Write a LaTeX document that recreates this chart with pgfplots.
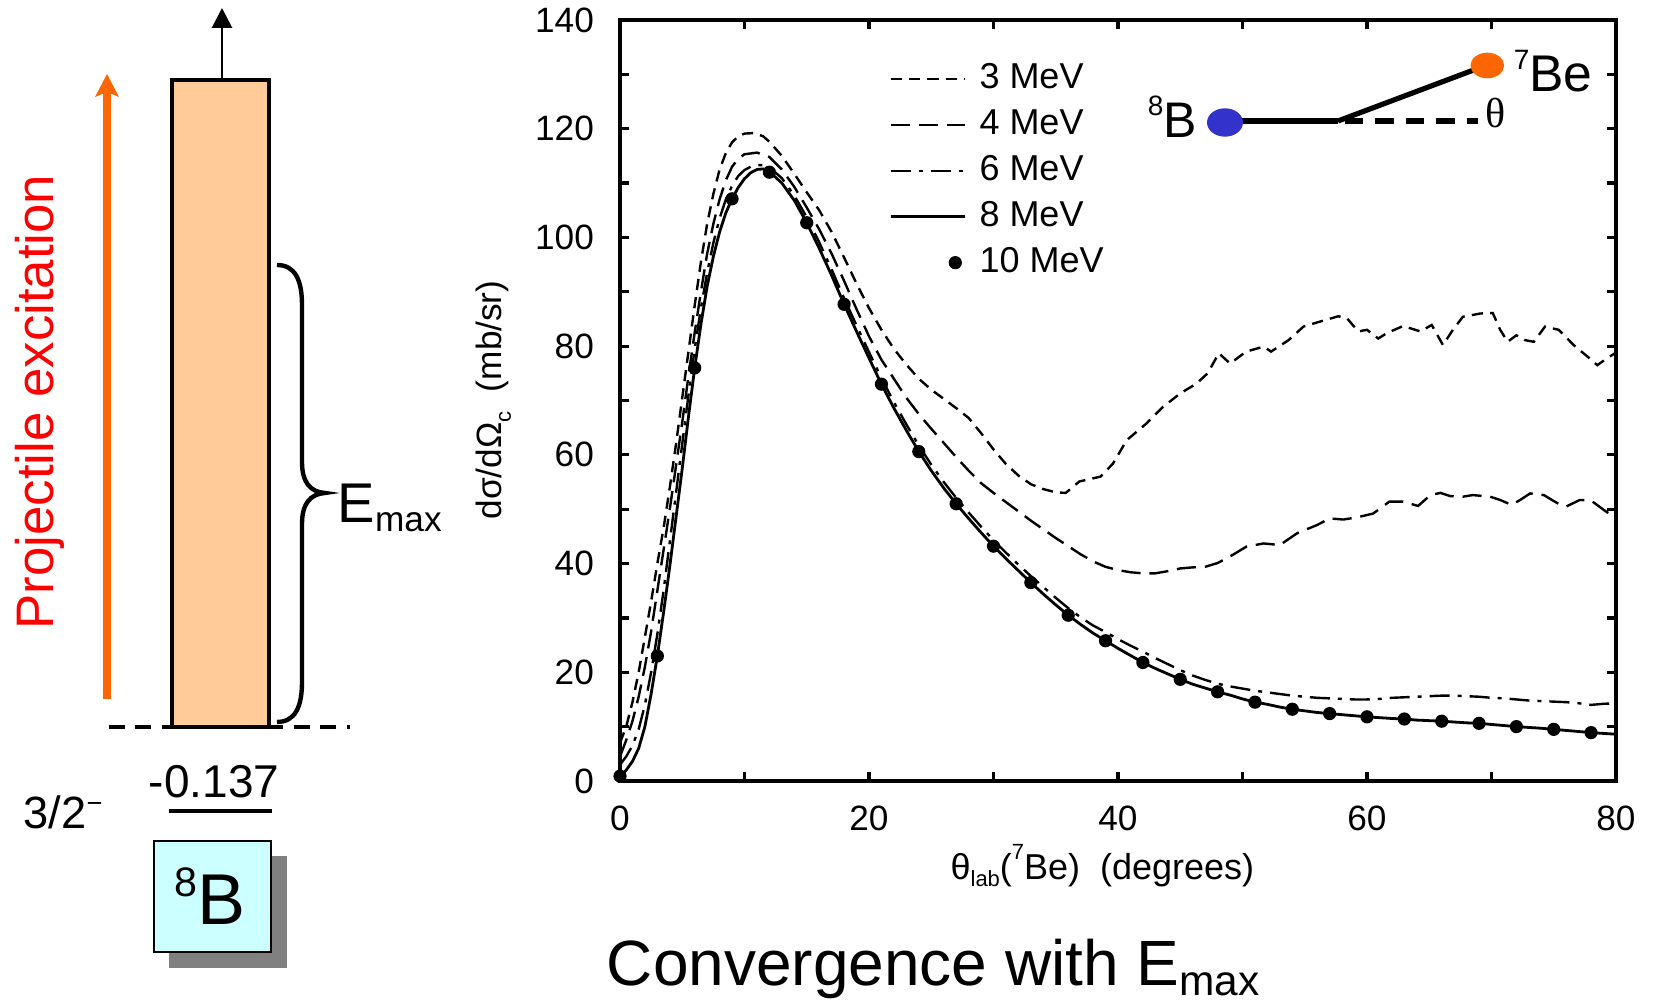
\documentclass[border=0pt]{standalone}
\usepackage{fontspec}
\setmainfont{Liberation Sans}
\newfontfamily\serifgr{Liberation Serif}
\usepackage{pgfplots}
\pgfplotsset{compat=1.18}
\usetikzlibrary{arrows.meta}
\definecolor{orangeA}{HTML}{FF6600}
\definecolor{peach}{HTML}{FFCC99}
\definecolor{cyanbox}{HTML}{CCFFFF}
\definecolor{shadowgray}{HTML}{808080}
\definecolor{blueB}{HTML}{3333CC}
\pgfplotsset{
  linelegend/.style={legend image code/.code={\draw[##1] (0pt,0pt) -- (18.5pt,0pt);}},
  dotlegend/.style={legend image code/.code={\path[draw=none,fill=none] (0pt,0pt) -- (18.5pt,0pt); \draw[##1] plot coordinates {(16.2pt,0pt)};}},
}
\begin{document}
\begin{tikzpicture}
\path[use as bounding box] (0,0) rectangle (413.25pt,251.25pt);
\begin{axis}[
  at={(155pt,56pt)}, anchor=south west,
  width=249pt, height=190.25pt, scale only axis,
  xmin=0, xmax=80, ymin=0, ymax=140,
  xtick={0,20,40,60,80}, minor xtick={10,30,50,70},
  ytick={0,20,...,140}, minor ytick={10,30,...,130},
  major tick length=2.3pt, minor tick length=2.3pt,
  tick style={line width=0.8pt, black},
  axis line style={line width=0.8pt},
  tick label style={font=\fontsize{8.8}{10}\selectfont},
  /pgf/number format/assume math mode=true,
  xticklabel style={yshift=-2.6pt},
  yticklabel style={xshift=-3pt},
  clip=false,
  xlabel={θ\raisebox{-1.7pt}{\fontsize{5.5}{6}\selectfont lab}(\raisebox{5pt}{\fontsize{5.5}{6}\selectfont 7}Be)\hspace{0.55em}(degrees)},
  ylabel={dσ/dΩ\raisebox{-2.3pt}{\fontsize{5.5}{6}\selectfont c}\hspace{0.55em}(mb/sr)},
  every axis x label/.style={at={(axis description cs:0.4843,-0.1297)}, anchor=base, font=\fontsize{9}{11}\selectfont},
  every axis y label/.style={at={(axis description cs:-0.1188,0.5007)}, anchor=base, rotate=90, font=\fontsize{8.8}{11}\selectfont},
  legend style={at={(axis description cs:0.2694,0.9541)}, anchor=north west, draw=none, fill=none,
    inner xsep=0pt, inner ysep=0pt, row sep=-0.3pt, font=\fontsize{9}{11}\selectfont,
    /tikz/every odd column/.append style={column sep=1.4pt}},
  legend cell align=left,
]
\addplot[black, line width=0.6pt, dash pattern=on 2.8pt off 1.8pt, linelegend] table {
x y
0 7
0.5 10
1 14.5
1.5 20
2 26.5
2.5 33
3 40
3.5 46.5
4 54
4.5 62
5 70.5
5.5 79
6 87.5
6.5 95.5
7 102.5
7.5 108
8 112.5
8.5 115.5
9 117.5
9.5 118.6
10 119.1
10.8 119.2
11.5 118.6
12 117.6
13 115
14 111.7
15 108.3
16 105
17 101
18 96.3
19 91.5
20 87
21 83
22 79.5
23 76.6
24 74
25 72
26 70.3
27 68.6
28 66.8
29 64
30 61
31 58.3
32 56.2
33 54.6
34 53.7
35 53.1
35.8 53
36.9 55.1
38.6 56
39.6 58.4
40.7 62.7
42.3 65.8
43.6 68.8
45 71.3
46.3 73.1
47.2 75
48.1 78.7
49 76.8
50.3 79
51.7 79.9
52.3 79
53.7 81.1
54.9 83.6
56.2 84.5
57.7 85.5
58.4 85.1
59.3 82.7
60 83
60.9 81.4
61.6 82.4
62.9 83.7
64.3 82.7
65.2 83.9
66.1 80.2
66.9 83
67.7 85.4
69.1 86
70.1 86.1
70.7 83
71.3 80.8
72 82
72.7 81.1
73.4 80.8
74.3 83.6
75.4 83
76.6 80.2
77.7 78.1
78.5 76.5
79.3 77.8
80 78.8
};
\addlegendentry{3 MeV}
\addplot[black, line width=0.6pt, dash pattern=on 4.8pt off 2.2pt, linelegend] table {
x y
0 4.5
0.5 7.5
1 11
1.5 15.5
2 21
2.5 27.5
3 35
3.5 42.5
4 50
4.5 58
5 66
5.5 74.5
6 82.5
6.5 90
7 97
7.5 102.5
8 107
8.5 110.5
9 113
9.5 114.5
10 115.3
11 115.6
12 114.8
13 112.5
14 109.3
15 105.5
16 101.5
17 97
18 92
19 86.8
20 81.8
21 77.5
22 74
23 70.5
24 67.5
25 64.8
26 62.2
27 59.6
28 57.1
29 54.8
30 53
31 51.3
32 49.6
33 47.9
34 46.3
35 44.7
36 43.2
37 41.7
38 40.4
39 39.4
40 38.8
41 38.4
42 38.2
43 38.2
44 38.6
45 39.1
46 39.3
47 39.4
48 40.1
49 41.3
50.3 43.1
51.7 43.7
53 43.4
54.4 45.6
56 47.1
57 48.3
58.1 48.1
59.2 48.5
60.5 49.2
61.8 51.4
62.9 51.4
64.1 50.6
65.1 52.6
65.9 53
66.7 52.4
67.7 52.3
68.5 52.6
69.9 52.3
70.7 51.7
71.6 50.8
72.3 51.7
73.1 52.9
74.2 52.6
75.3 51.1
76 50.5
77.1 51.7
78 51.6
79 49.9
80 48.3
};
\addlegendentry{4 MeV}
\addplot[black, line width=0.6pt, dash pattern=on 5pt off 2pt on 1pt off 2pt, linelegend] table {
x y
0 3
0.5 4.5
1 6.5
1.5 9.5
2 14
2.5 20
3 27
3.5 35
4 44
4.5 53
5 62
5.5 71
6 79.5
6.5 87
7 93.5
7.5 99
8 103.5
8.5 107
9 109.5
9.5 111.3
10 112.4
10.5 113
11 113.3
11.5 113.3
12 112.9
13 110.9
14 107.7
15 103.7
16 99.1
17 94.1
18 88.8
19 83.8
20 78.9
21 74.1
22 69.7
23 65.6
24 61.7
25 58.2
26 55
27 52.1
28 49.4
29 46.8
30 44.3
31 42
32 39.8
33 37.7
34 35.7
35 33.7
36 31.8
37 30.1
38 28.6
39 27.4
40 26.1
41 24.9
42 23.8
43 22.6
44 21.5
45 20.4
46 19.4
47 18.6
48 17.9
49 17.4
50 17
51 16.6
52 16.3
53 16
54 15.7
55 15.5
56 15.3
57 15.2
58 15.1
59 15
60 15
61 15.1
62 15.3
63 15.4
64 15.5
65 15.6
66 15.7
67 15.7
68 15.6
69 15.5
70 15.3
71 15.2
72 15
73 14.8
74 14.7
75 14.6
76 14.5
77 14.3
78 14
79 14.2
80 14.3
};
\addlegendentry{6 MeV}
\addplot[black, line width=0.7pt, linelegend] table {
x y
0 0.9
0.5 2
1 3.6
1.5 6
2 10
2.5 16
3 23
3.5 31
4 39.5
4.5 48.5
5 57.5
5.5 67
6 76
6.5 84
7 91
7.5 96.5
8 101
8.5 104.5
9 107.1
9.5 109.2
10 110.8
10.5 111.9
11 112.5
11.5 112.6
12 112.1
13 110
14 106.8
15 102.7
16 98
17 93
18 87.7
19 82.7
20 77.8
21 73
22 68.6
23 64.5
24 60.6
25 57.1
26 53.9
27 51
28 48.3
29 45.7
30 43.2
31 40.9
32 38.7
33 36.5
34 34.4
35 32.4
36 30.5
37 28.8
38 27.2
39 25.8
40 24.4
41 23.1
42 21.8
43 20.7
44 19.7
45 18.7
46 17.8
47 17.1
48 16.4
49 15.8
50 15.1
51 14.5
52 14.1
53 13.6
54 13.2
55 12.9
56 12.6
57 12.4
58 12.2
59 12
60 11.8
62 11.5
63 11.4
64 11.2
66 11
68 10.7
69 10.6
70 10.4
72 10
74 9.7
75 9.5
76 9.3
78 8.9
80 8.6
};
\addlegendentry{8 MeV}
\addplot[only marks, mark=*, mark size=1.45pt, black, dotlegend] table {
x y
0 0.9
3 23
6 76
9 107.1
12 112
15 102.7
18 87.7
21 73
24 60.6
27 51
30 43.2
33 36.5
36 30.5
39 25.8
42 21.8
45 18.7
48 16.4
51 14.5
54 13.2
57 12.4
60 11.8
63 11.4
66 11
69 10.6
72 10
75 9.5
78 8.9
};
\addlegendentry{10 MeV}
\end{axis}
\begin{scope}[shift={(0pt,251.25pt)}, x=0.25pt, y=-0.25pt]
% orange arrow and red label
\draw[line width=2.1pt, orangeA] (107,699) -- (107,92);
\fill[orangeA] (95,97) -- (107,74) -- (119,97) -- (107,92) -- cycle;
\node[rotate=90, anchor=base, inner sep=0, text=red, font=\fontsize{13.2}{15}\selectfont] at (54,402) {Projectile excitation};
% dashed threshold line
\draw[line width=0.85pt, dash pattern=on 4pt off 2.6pt] (109,727) -- (350,727);
% level bar
\draw[fill=peach, line width=0.8pt] (172,80) rectangle (269,727);
\draw[line width=0.7pt, -{Triangle[width=5pt,length=5pt]}] (222,80) -- (222,8);
% brace
\draw[line width=1.1pt] (277,265) .. controls (295,265) and (302,280) .. (302,305) -- (302,462)
  .. controls (302,482) and (310,492) .. (325,493) .. controls (310,494) and (302,504) .. (302,524)
  -- (302,682) .. controls (302,707) and (295,722) .. (277,722);
\node[anchor=base west, inner sep=0] at (337,523) {\fontsize{14}{16}\selectfont E\raisebox{-2.25pt}{\fontsize{8.8}{10}\selectfont max}};
% ground state
\node[anchor=base west, inner sep=0, font=\fontsize{11.5}{13}\selectfont] at (148,798) {-0.137};
\draw[line width=1.05pt] (169,811) -- (272,811);
\node[anchor=base west, inner sep=0, font=\fontsize{11.3}{13}\selectfont] at (23,829) {3/2\raisebox{4.2pt}{\fontsize{6.8}{8}\selectfont −}};
% 8B box
\fill[shadowgray] (169,856) rectangle (287,968);
\draw[fill=cyanbox, line width=0.4pt] (154,841) rectangle (271,952);
\node[anchor=base west, inner sep=0] at (174,924.5) {\raisebox{7.1pt}{\fontsize{10.3}{12}\selectfont 8}\fontsize{18}{20}\selectfont B};
% inset sketch
\draw[line width=1.3pt] (1225,121) -- (1338,121);
\draw[line width=1.3pt] (1338,121) -- (1487,65);
\draw[line width=1.3pt, dash pattern=on 4.6pt off 3pt] (1345,121) -- (1478,121);
\fill[blueB] (1225,122.5) ellipse [x radius=4.5pt, y radius=3.55pt];
\fill[orangeA] (1487.3,65.5) ellipse [x radius=4.2pt, y radius=3.2pt];
\node[anchor=base west, inner sep=0] at (1147,138) {\raisebox{5.7pt}{\fontsize{7}{8}\selectfont 8}\fontsize{12.5}{14}\selectfont B};
\node[anchor=base west, inner sep=0] at (1513,92) {\raisebox{5.5pt}{\fontsize{7}{8}\selectfont 7}\fontsize{12.9}{14}\selectfont Be};
\node[anchor=base west, inner sep=0, font=\serifgr\fontsize{10.5}{12}\selectfont] at (1485,128) {θ};
% title
\node[anchor=base west, inner sep=0] at (606,985.7) {\fontsize{16}{18}\selectfont Convergence with E\raisebox{-2.5pt}{\fontsize{10.6}{12}\selectfont max}};
\end{scope}
\end{tikzpicture}
\end{document}
